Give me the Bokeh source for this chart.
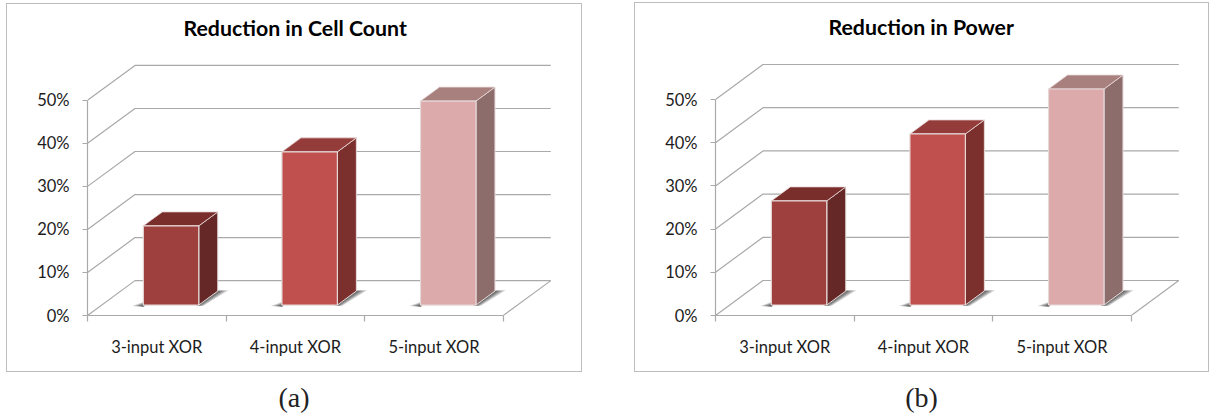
from bokeh.embed import file_html
from bokeh.layouts import column, row
from bokeh.models import Div, FixedTicker, LinearAxis, PrintfTickFormatter, Range1d, Title
from bokeh.plotting import figure
from bokeh.resources import INLINE

# Chart contents
categories = ["3-input XOR", "4-input XOR", "5-input XOR"]
percent_ticks = [0, 10, 20, 30, 40, 50]
cell_count_reduction = [18.4, 35.6, 47.4]
power_reduction = [24.1, 39.6, 50.0]

# Colours of each bar: front, side, top
front_colors = ["#9e413e", "#c0504d", "#dcaaaa"]
side_colors = ["#662826", "#7c302e", "#8c6d6b"]
top_colors = ["#7a2e2c", "#943c3a", "#a8807e"]
EDGE = "#e6d8d8"
GRID = "#a9a9a9"
TEXT = "#1c1c1c"
LABEL_FONT = "Lato"

# Pixel scale of the plotting frame and the oblique projection
PX_PER_CATEGORY = 138.6
PX_PER_PERCENT = 4.32
FRAME_BOTTOM = 315
FRAME_TOP = 47
FRAME_WIDTH = 470
DEPTH_X = 47.5 / PX_PER_CATEGORY   # category units moved by the full floor depth
DEPTH_Y = 35.0 / PX_PER_PERCENT    # percent units moved by the full floor depth
BAR_WIDTH = 0.4
BAR_DEPTH_FRONT = 0.3
BAR_DEPTH_BACK = 0.7


def project(x, y, depth):
    """Map a point (category position, percent, depth 0..1) onto the flat plot."""
    return x + depth * DEPTH_X, y + depth * DEPTH_Y


def poly(points):
    pts = [project(*pt) for pt in points]
    return [pt[0] for pt in pts], [pt[1] for pt in pts]


def build_panel(title, caption, values, page_left, page_top, width, height, right_gap, frame_page_left, title_offset):
    frame_left = frame_page_left - page_left
    page_bottom = page_top + height
    p = figure(
        width=width, height=height,
        x_range=Range1d(0, FRAME_WIDTH / PX_PER_CATEGORY),
        y_range=Range1d(0, (FRAME_BOTTOM - FRAME_TOP) / PX_PER_PERCENT),
        output_backend="svg", toolbar_location=None,
        x_axis_type=None, y_axis_type=None,
        min_border_left=frame_left, min_border_right=width - frame_left - FRAME_WIDTH,
        min_border_top=FRAME_TOP - page_top, min_border_bottom=page_bottom - FRAME_BOTTOM,
        background_fill_color="white", border_fill_color="white",
        outline_line_color=None,
        margin=(page_top, right_gap, 0, page_left),
        styles={"outline": "1.5px solid #bdbdbd"},
    )
    p.grid.visible = False

    # Walls and floor
    n = len(categories)
    for tick in percent_ticks:
        xs, ys = poly([(0, tick, 0), (0, tick, 1), (n, tick, 1)])
        p.line(xs, ys, line_color=GRID, line_width=1.2)
    xs, ys = poly([(n, 0, 0), (n, 0, 1)])
    p.line(xs, ys, line_color=GRID, line_width=1.2)

    # Bars: floor shadow first, then side, top and front faces
    for i, val in enumerate(values):
        x0 = i + 0.5 - BAR_WIDTH / 2
        x1 = i + 0.5 + BAR_WIDTH / 2
        d0, d1 = BAR_DEPTH_FRONT, BAR_DEPTH_BACK

        # Stacked translucent shapes give the shadow its soft falloff
        for tip, alpha in ((0.07, 0.25), (0.052, 0.3), (0.034, 0.38), (0.016, 0.45)):
            xs, ys = poly([
                (x1 - 0.01, 0, d0 - 0.03), (x1 + 0.6 * tip, 0, d0 - 0.02),
                (x1 + tip, 0, d1 + 0.3 * tip), (x1, 0, d1 + 0.3 * tip),
            ])
            p.patch(xs, ys, fill_color="#4d4d4d", fill_alpha=alpha, line_color=None)
            xs, ys = poly([(x0 - tip, 0, d0 - 0.03), (x0, 0, d0 + 2.5 * tip), (x0 + 0.02, 0, d0 - 0.05)])
            p.patch(xs, ys, fill_color="#4d4d4d", fill_alpha=alpha, line_color=None)

        xs, ys = poly([(x1, 0, d0), (x1, 0, d1), (x1, val, d1), (x1, val, d0)])
        p.patch(xs, ys, fill_color=side_colors[i], line_color=EDGE, line_width=1)
        xs, ys = poly([(x0, val, d0), (x1, val, d0), (x1, val, d1), (x0, val, d1)])
        p.patch(xs, ys, fill_color=top_colors[i], line_color=EDGE, line_width=0.8)
        xs, ys = poly([(x0, 0, d0), (x1, 0, d0), (x1, val, d0), (x0, val, d0)])
        p.patch(xs, ys, fill_color=front_colors[i], line_color=EDGE, line_width=1.2)

    # Value axis
    y_axis = LinearAxis(
        ticker=FixedTicker(ticks=percent_ticks), formatter=PrintfTickFormatter(format="%d%%"),
        bounds=(0, 50), axis_line_color=GRID, axis_line_width=1.2,
        major_tick_line_color=GRID, major_tick_line_width=1.2, major_tick_in=0, major_tick_out=5,
        minor_tick_line_color=None, major_label_standoff=13,
        major_label_text_font=LABEL_FONT, major_label_text_font_size="16.5px",
        major_label_text_color=TEXT,
    )
    p.add_layout(y_axis, "left")

    # Category axis: labels sit mid-category, minor ticks mark the category boundaries
    x_axis = LinearAxis(
        ticker=FixedTicker(ticks=[i + 0.5 for i in range(n)], minor_ticks=list(range(n + 1))),
        major_label_overrides={i + 0.5: c for i, c in enumerate(categories)},
        bounds=(0, n), axis_line_color=GRID, axis_line_width=1.2,
        major_tick_line_color=None, minor_tick_line_color=GRID, minor_tick_line_width=1.2,
        minor_tick_in=0, minor_tick_out=6, major_tick_in=0, major_tick_out=0,
        major_label_standoff=15, major_label_orientation="horizontal",
        major_label_text_font=LABEL_FONT, major_label_text_font_size="16.5px",
        major_label_text_color=TEXT,
    )
    p.add_layout(x_axis, "below")

    p.title = Title(
        text=title, align="left", offset=title_offset, standoff=16,
        text_font=LABEL_FONT, text_font_style="bold", text_font_size="21.3px", text_color="#000000",
    )

    label = Div(
        text=caption, width=width, height=30, margin=(12, right_gap, 0, page_left),
        styles={
            "font-family": "Liberation Serif", "font-size": "28px", "color": "#222222",
            "text-align": "center", "line-height": "30px", "width": f"{width}px",
        },
    )
    return column(p, label, spacing=0)


left_panel = build_panel("Reduction in Cell Count", "(a)", cell_count_reduction,
                         7, 4, 574, 367, 39, 87, 96)
right_panel = build_panel("Reduction in Power", "(b)", power_reduction,
                          15, 3, 573, 368, 2, 95, 113)

page = row(left_panel, right_panel, spacing=0)
open("out.html", "w").write(file_html(page, INLINE))
